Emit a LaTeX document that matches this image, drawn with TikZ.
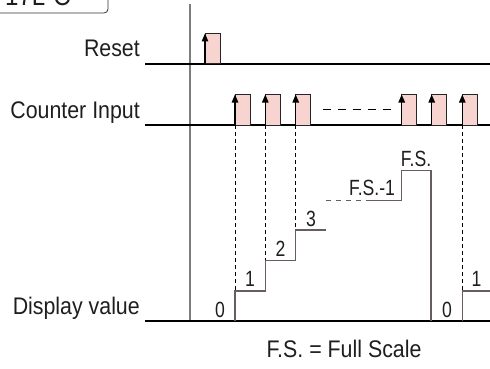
\documentclass[tikz,border=0pt]{standalone}
\usepackage{fontspec}
\setmainfont{Liberation Sans}
\newfontfamily\narrowfont[FakeStretch=0.8]{Liberation Sans}
\newfontfamily\labelfont[FakeStretch=0.89]{Liberation Sans}
\usetikzlibrary{arrows.meta}
\definecolor{pulsepink}{RGB}{247,212,208}
\definecolor{steptone}{RGB}{105,92,92}
\definecolor{axistone}{RGB}{125,125,125}
\definecolor{inktone}{RGB}{30,30,30}
\begin{document}
\begin{tikzpicture}[x=1pt,y=-1pt,
  baseln/.style={line width=1.2pt, black},
  axisln/.style={line width=1.3pt, axistone},
  pulsebox/.style={draw=black!85, line width=1pt, fill=pulsepink},
  edgearrow/.style={line width=1.1pt, black, -{Triangle[width=6.5pt,length=8pt]}},
  stepln/.style={line width=1.4pt, steptone},
  guide/.style={line width=0.8pt, black, dash pattern=on 4pt off 3pt},
  biglabel/.style={font=\labelfont\fontsize{24}{28}\selectfont, text=inktone, inner sep=0pt, anchor=base east},
  smalllabel/.style={font=\narrowfont\fontsize{22}{25}\selectfont, text=inktone, inner sep=0pt, anchor=base},
]
\useasboundingbox (0,0) rectangle (490,369);

% title box (clipped at the top)
\draw[line width=0.8pt, rounded corners=4pt, black!80] (-10,-20) rectangle (108,13);
\node[font=\labelfont\fontsize{27}{30}\selectfont, text=inktone, inner sep=0pt, anchor=base west] (title) at (5,6) {17L-C};

% axis
\coordinate (axtop) at (190,4);
\coordinate (axbot) at (190,322);
\draw[axisln] (axtop) -- (axbot);

% labels
\node[biglabel] (reset) at (140,57) {Reset};
\node[biglabel] (cin) at (140,118) {Counter Input};
\node[biglabel] (disp) at (140,314) {Display value};

% baselines
\coordinate (rsA) at (145,64);  \coordinate (rsB) at (490,64);
\coordinate (ciA) at (145,125); \coordinate (ciB) at (490,125);
\coordinate (dvA) at (145,321); \coordinate (dvB) at (490,321);
\draw[baseln] (rsA) -- (rsB);
\draw[baseln] (ciA) -- (ciB);
\draw[baseln] (dvA) -- (dvB);

% reset pulse
\draw[pulsebox] (205,64) rectangle (220.3,33.5);
\coordinate (rpb) at (205,64); \coordinate (rpt) at (205,33.5);
\draw[edgearrow] (rpb) -- (rpt);

% counter pulses
\foreach \a/\b in {235/250.7, 265.3/280.7, 295.7/310.7, 401.7/416.7, 431.7/446.7, 462.3/477.3} {
  \draw[pulsebox] (\a,125) rectangle (\b,94.5);
  \draw[edgearrow] (\a,125) -- (\a,94.5);
}
\coordinate (dsA) at (322.7,109); \coordinate (dsB) at (390.7,109);
\draw[line width=1pt, black, dash pattern=on 8pt off 7pt] (dsA) -- (dsB);

% guides
\draw[guide] (235,125) -- (235,291);
\draw[guide] (265.3,125) -- (265.3,260.7);
\draw[guide] (295.7,125) -- (295.7,230);
\draw[guide] (462.3,125) -- (462.3,291);

% display steps
\draw[stepln] (235,321) -- (235,291) -- (265.3,291) -- (265.3,260.7) -- (295.7,260.7) -- (295.7,230) -- (325.7,230);
\draw[stepln, dash pattern=on 5pt off 5pt] (325.7,200.5) -- (371,200.5);
\draw[stepln] (371,200.5) -- (401.5,200.5) -- (401.5,170.5) -- (431,170.5) -- (431,321);
\draw[stepln] (462.3,321) -- (462.3,291) -- (490,291);

% step labels
\node[smalllabel] (v0a) at (220,317) {0};
\node[smalllabel] (v1a) at (250,286.7) {1};
\node[smalllabel] (v2a) at (280.5,256.7) {2};
\node[smalllabel] (v3a) at (311,226.7) {3};
\node[smalllabel] (vfm) at (372,195) {F.S.-1};
\node[smalllabel] (vfs) at (416,166.7) {F.S.};
\node[smalllabel] (v0b) at (447,317) {0};
\node[smalllabel] (v1b) at (476.5,286.7) {1};

\node[font=\labelfont\fontsize{24}{28}\selectfont, text=inktone, inner sep=0pt, anchor=base] (legend) at (344,357) {F.S. = Full Scale};
\end{tikzpicture}
\end{document}
